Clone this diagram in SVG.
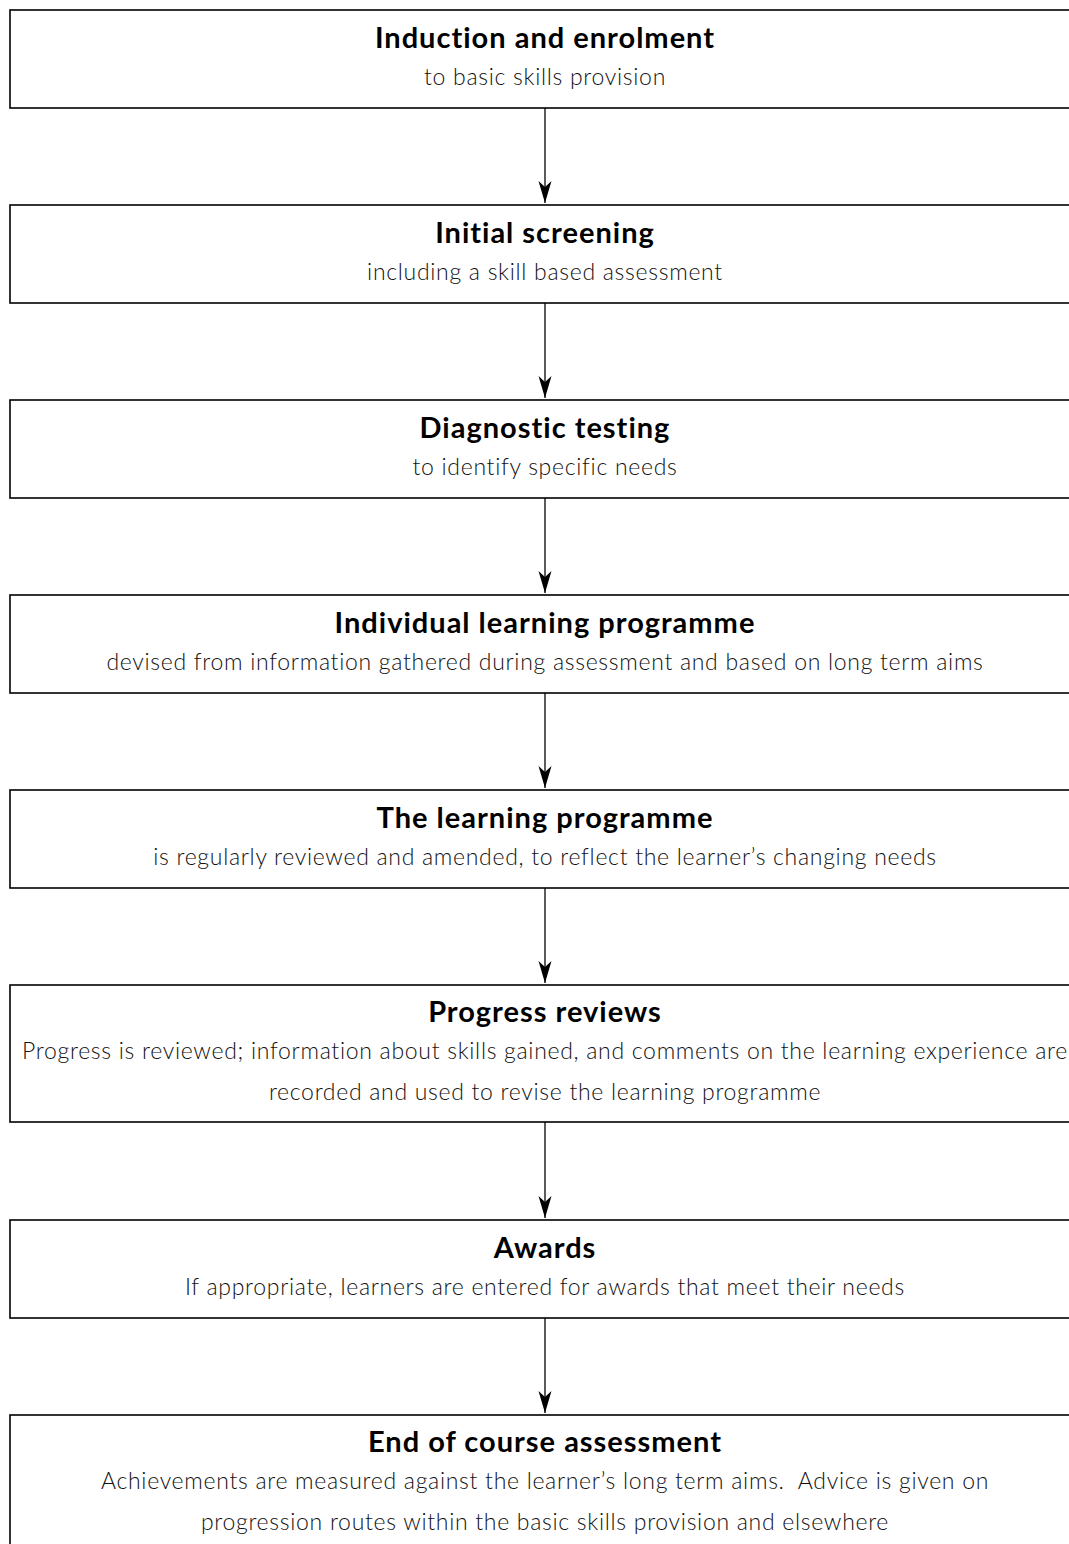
<svg xmlns="http://www.w3.org/2000/svg" width="1069" height="1544" viewBox="0 0 1069 1544">
  <style>
    .box { fill: #ffffff; stroke: #000000; stroke-width: 1.6; }
    .title { font-family: Lato, "Open Sans", "Liberation Sans", sans-serif; font-weight: 700; font-size: 29px; letter-spacing: 1px; fill: #000000; text-anchor: middle; }
    .sub { font-family: Lato, "Open Sans", "Liberation Sans", sans-serif; font-weight: 300; font-size: 23px; letter-spacing: 0.7px; fill: #111111; text-anchor: middle; }
    .link { stroke: #333333; stroke-width: 1.6; fill: none; }
  </style>
  <defs>
    <!-- barbed arrowhead, tip at the end of the line -->
    <marker id="arrow" markerUnits="userSpaceOnUse" markerWidth="24" markerHeight="14" viewBox="-23 -7 24 14" refX="0" refY="0" orient="auto">
      <path d="M0,0 L-22,-6.5 L-16,0 L-22,6.5 Z" fill="#000000"/>
    </marker>
  </defs>
  <rect width="1069" height="1544" fill="#ffffff"/>

  <!-- connectors: straight drops between consecutive steps -->
  <g id="connectors">
    <line class="link" x1="545" y1="108" x2="545" y2="203" marker-end="url(#arrow)"/>
    <line class="link" x1="545" y1="303" x2="545" y2="398" marker-end="url(#arrow)"/>
    <line class="link" x1="545" y1="498" x2="545" y2="593" marker-end="url(#arrow)"/>
    <line class="link" x1="545" y1="693" x2="545" y2="788" marker-end="url(#arrow)"/>
    <line class="link" x1="545" y1="888" x2="545" y2="983" marker-end="url(#arrow)"/>
    <line class="link" x1="545" y1="1122" x2="545" y2="1218" marker-end="url(#arrow)"/>
    <line class="link" x1="545" y1="1318" x2="545" y2="1413" marker-end="url(#arrow)"/>
  </g>

  <g id="induction">
    <rect class="box" x="10" y="10" width="1070" height="98"/>
    <text class="title" x="545" y="48">Induction and enrolment</text>
    <text class="sub" x="545" y="85">to basic skills provision</text>
  </g>

  <g id="screening">
    <rect class="box" x="10" y="205" width="1070" height="98"/>
    <text class="title" x="545" y="243">Initial screening</text>
    <text class="sub" x="545" y="280">including a skill based assessment</text>
  </g>

  <g id="diagnostic">
    <rect class="box" x="10" y="400" width="1070" height="98"/>
    <text class="title" x="545" y="438">Diagnostic testing</text>
    <text class="sub" x="545" y="475">to identify specific needs</text>
  </g>

  <g id="individual-programme">
    <rect class="box" x="10" y="595" width="1070" height="98"/>
    <text class="title" x="545" y="633">Individual learning programme</text>
    <text class="sub" x="545" y="670">devised from information gathered during assessment and based on long term aims</text>
  </g>

  <g id="learning-programme">
    <rect class="box" x="10" y="790" width="1070" height="98"/>
    <text class="title" x="545" y="828">The learning programme</text>
    <text class="sub" x="545" y="865">is regularly reviewed and amended, to reflect the learner’s changing needs</text>
  </g>

  <g id="progress-reviews">
    <rect class="box" x="10" y="985" width="1070" height="137"/>
    <text class="title" x="545" y="1022">Progress reviews</text>
    <text class="sub" x="545" y="1059">Progress is reviewed; information about skills gained, and comments on the learning experience are</text>
    <text class="sub" x="545" y="1100">recorded and used to revise the learning programme</text>
  </g>

  <g id="awards">
    <rect class="box" x="10" y="1220" width="1070" height="98"/>
    <text class="title" x="545" y="1258">Awards</text>
    <text class="sub" x="545" y="1295">If appropriate, learners are entered for awards that meet their needs</text>
  </g>

  <g id="end-assessment">
    <rect class="box" x="10" y="1415" width="1070" height="150"/>
    <text class="title" x="545" y="1452">End of course assessment</text>
    <text class="sub" x="545" y="1489">Achievements are measured against the learner’s long term aims.&#160; Advice is given on</text>
    <text class="sub" x="545" y="1530">progression routes within the basic skills provision and elsewhere</text>
  </g>
</svg>
